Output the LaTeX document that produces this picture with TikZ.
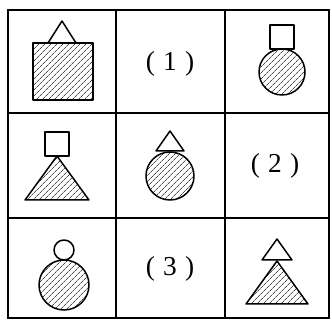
\documentclass[tikz,border=0pt]{standalone}
\usepackage{fontspec}
\setmainfont{Liberation Serif}
\usepackage{tikz}
\usetikzlibrary{patterns.meta}

\begin{document}
\begin{tikzpicture}[x=1pt, y=-1pt,
		grid/.style={line width=1.6pt},
		shp/.style={line width=1.5pt, line join=round},
		hatch/.style={shp, pattern={Lines[angle=45, distance=4pt, line width=0.7pt]}, pattern color=black!70},
		lbl/.style={font=\Huge, scale=1.1}]
				\useasboundingbox (0,0) rectangle (332,320);
				
				% Grid
				\draw[grid] (8,10) rectangle (329,318);
				\draw[grid] (116,10) -- (116,318);
				\draw[grid] (225,10) -- (225,318);
				\draw[grid] (8,113) -- (329,113);
				\draw[grid] (8,218) -- (329,218);
				
				% Row 1: square with triangle
				\draw[hatch] (33,43) rectangle (93,100);
				\draw[shp, fill=white] (48,43) -- (62,21) -- (76,43) -- cycle;
				
				% Row 1: label
				\node[lbl] (q1) at (170,64) {(\hspace{0.3em}1\hspace{0.3em})};
				
				% Row 1: circle with square
				\draw[hatch] (282,72) circle (23);
				\draw[shp, fill=white] (270,25) rectangle (294,49);
				
				% Row 2: triangle with square
				\draw[hatch] (25,200) -- (57,156) -- (89,200) -- cycle;
				\draw[shp, fill=white] (45,132) rectangle (69,156);
				
				% Row 2: circle with triangle
				\draw[hatch] (170,176) circle (24);
				\draw[shp, fill=white] (156,151) -- (170,131) -- (184,151) -- cycle;
				
				% Row 2: label
				\node[lbl] (q2) at (275,166) {(\hspace{0.3em}2\hspace{0.3em})};
				
				% Row 3: circle with circle
				\draw[hatch] (64,285) circle (25);
				\draw[shp, fill=white] (64,250) circle (10);
				
				% Row 3: label
				\node[lbl] (q3) at (170,269) {(\hspace{0.3em}3\hspace{0.3em})};
				
				% Row 3: triangle with triangle
				\draw[hatch] (246,304) -- (277,261) -- (308,304) -- cycle;
				\draw[shp, fill=white] (262,260) -- (277,239) -- (292,260) -- cycle;
			\end{tikzpicture}
\end{document}
